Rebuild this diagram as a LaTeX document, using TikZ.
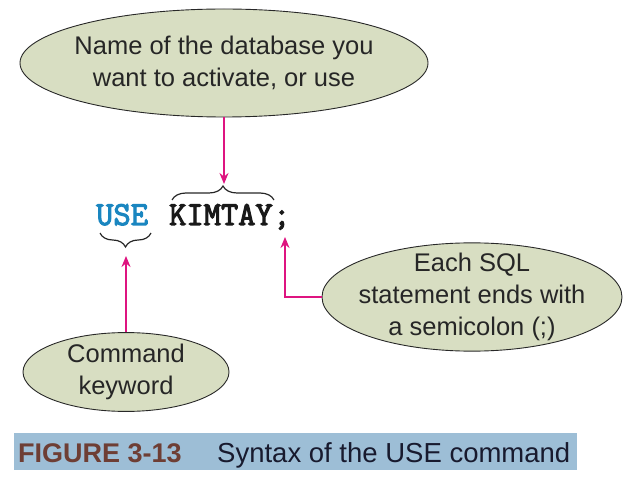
\documentclass[tikz,border=0pt]{standalone}
\usepackage{fontspec}
\setmainfont{Liberation Sans}
\newfontfamily\codefont[AutoFakeBold=3.2]{Latin Modern Mono}
\usetikzlibrary{shapes.geometric,arrows.meta,decorations.pathreplacing}
\definecolor{sage}{RGB}{216,222,194}
\definecolor{magarrow}{RGB}{222,20,128}
\definecolor{useblue}{RGB}{26,134,192}
\definecolor{band}{RGB}{157,190,214}
\definecolor{figbrown}{RGB}{110,62,52}
\definecolor{capnavy}{RGB}{24,26,46}
\definecolor{outline}{RGB}{40,40,40}
\tikzset{
  bubble/.style={ellipse, draw=outline, line width=0.9pt, fill=sage, inner sep=0pt,
    align=center, font=\fontsize{25.5}{32}\selectfont, text=black!85},
  pinkarrow/.style={draw=magarrow, line width=2pt, -{Stealth[length=11pt,width=9pt]}},
  codetext/.style={inner sep=0pt, anchor=base west, font=\codefont\bfseries\fontsize{33.5}{33.5}\selectfont},
  bracket/.style={decorate, decoration={brace, amplitude=14pt}, line width=1.2pt, draw=black!85}
}
\begin{document}
\begin{tikzpicture}[x=1pt,y=-1pt]
\useasboundingbox (0,0) rectangle (634,494);
% ellipses
\node[bubble, inner xsep=-6.7pt, minimum width=408pt, minimum height=108pt] (top) at (224,63)
  {Name of the database you\\want to activate, or use};
\node[bubble, inner xsep=-7.4pt, inner ysep=-5.6pt, minimum width=300pt, minimum height=105pt] (semi) at (472,297)
  {Each SQL\\statement ends with\\a semicolon (;)};
\node[bubble, minimum width=206pt, minimum height=78pt] (cmd) at (126,372)
  {Command\\keyword};
% code text
\node[codetext, text=useblue] (use) at (96,225) {USE};
\node[codetext, text=black!90] (kim) at (169,225) {KIMTAY};
\node[codetext, text=black!90] (sc) at (273,225) {;};
% braces
\coordinate (kimL) at (172,200);
\coordinate (kimR) at (274,200);
\coordinate (kimtip) at (224,184);
\draw[bracket] (kimL) -- (kimR);
\coordinate (useL) at (100,233);
\coordinate (useR) at (151,233);
\coordinate (usetip) at (126,256);
\draw[bracket] (useR) -- (useL);
\coordinate (semitip) at (285,237);
% arrows
\draw[pinkarrow] (top.south) -- (kimtip);
\draw[pinkarrow] (cmd.north) -- (usetip);
\draw[pinkarrow] (semi.west) -| (semitip);
% caption
\node[fill=band, minimum width=563pt, minimum height=37pt, inner sep=0pt] (capband) at (295.5,451.5) {};
\node[anchor=base west, inner sep=0pt, text=figbrown, font=\bfseries\fontsize{27}{27}\selectfont] (fig) at (18,462) {FIGURE 3-13};
\node[anchor=base west, inner sep=0pt, text=capnavy, font=\fontsize{27.5}{27.5}\selectfont] (cap) at (217,462) {Syntax of the USE command};
\end{tikzpicture}
\end{document}
